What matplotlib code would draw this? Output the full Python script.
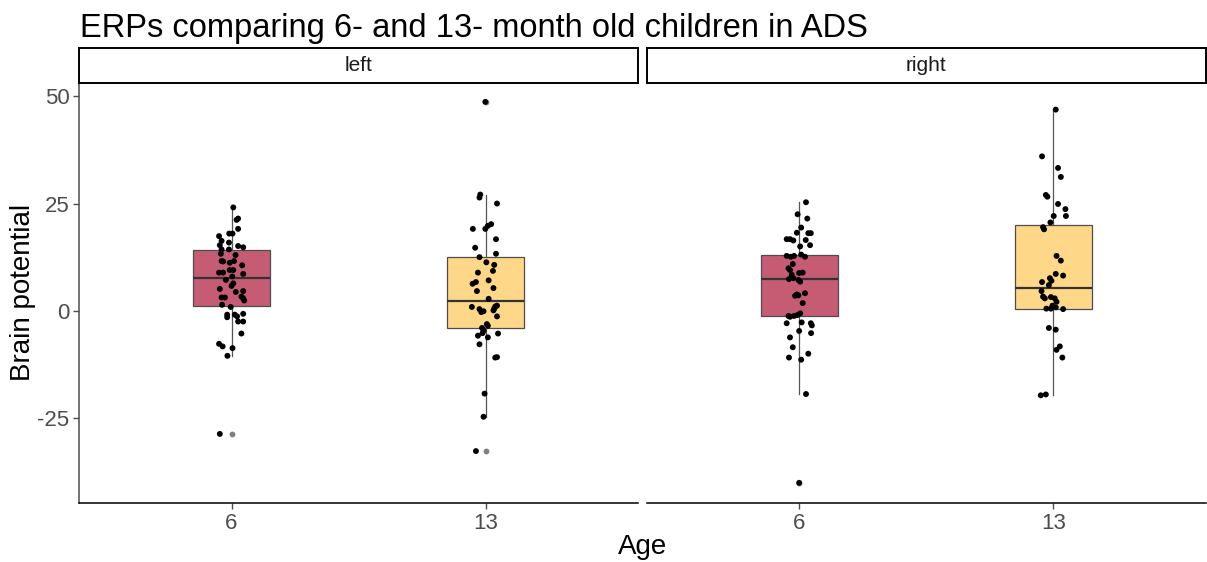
import numpy as np
import matplotlib.pyplot as plt

plt.rcParams['font.family'] = ['Liberation Sans', 'DejaVu Sans']

ages = ['6', '13']
sides = ['left', 'right']
box_colors = ['#C55C74', '#FFD788']

# brain potential per child, with the horizontal jitter of each dot
left_6 = [24.1, 21.5, 21.2, 19.1, 17.4, 18.0, 18.0, 16.3, 15.3, 15.9, 15.1, 14.8,
          14.3, 14.3, 13.3, 13.0, 11.6, 11.5, 11.2, 11.6, 10.6, 8.9, 8.9, 9.5, 9.5,
          8.6, 8.0, 7.2, 6.4, 5.8, 5.1, 4.4, 4.6, 3.1, 3.1, 3.3, 2.4, 2.9, 1.4, 0.9,
          -0.9, -1.5, -0.9, -1.3, -0.7, -2.5, -2.5, -5.3, -7.7, -8.3, -8.7, -10.5, -28.7]
left_6_jit = [0.007, 0.026, 0.020, 0.026, -0.049, -0.009, 0.004, -0.039, -0.046, -0.010,
              0.026, 0.046, -0.039, -0.010, -0.042, 0.016, -0.039, -0.033, -0.007, 0.010,
              0.042, -0.049, -0.033, -0.007, 0.007, 0.046, 0.003, -0.022, 0.007, 0.0,
              -0.046, 0.017, 0.046, -0.039, -0.026, 0.039, 0.050, 0.046, -0.037, -0.003,
              -0.017, -0.017, 0.013, 0.022, 0.046, 0.026, 0.046, 0.039, -0.049, -0.035,
              0.004, -0.016, -0.046]

left_13 = [48.7, 27.1, 26.4, 25.0, 20.2, 19.8, 19.1, 19.1, 16.7, 14.7, 13.3, 12.5,
           11.3, 10.7, 9.3, 8.9, 7.1, 6.3, 6.7, 5.3, 4.6, 2.8, 0.9, 0.4, -0.3, -0.1,
           0.5, 1.0, 1.2, 0.1, -1.3, -3.1, -3.5, -4.0, -4.6, -5.8, -5.2, -6.2, -5.3,
           -7.8, -10.9, -10.8, -19.3, -24.7, -32.7]
left_13_jit = [-0.001, -0.021, -0.024, 0.045, 0.022, 0.009, -0.001, -0.050, 0.041, -0.041,
               0.041, -0.024, 0.003, 0.034, 0.029, -0.030, 0.012, -0.051, -0.038, 0.031,
               -0.034, 0.012, -0.054, -0.024, -0.017, -0.008, 0.034, 0.038, 0.045, 0.031,
               0.045, 0.005, 0.009, -0.014, -0.008, -0.030, -0.012, 0.009, 0.049, -0.024,
               0.038, 0.045, -0.004, -0.008, -0.038]

right_6 = [25.3, 22.5, 21.5, 19.4, 18.2, 18.1, 18.1, 16.7, 16.7, 16.4, 16.5, 15.3,
           15.0, 12.8, 12.6, 12.8, 13.1, 12.6, 10.9, 9.9, 9.5, 8.8, 8.9, 8.4, 7.4, 7.6,
           7.2, 6.8, 3.8, 3.5, 3.6, 4.1, 1.8, -0.6, -1.0, -1.2, -1.4, -1.2, -2.9, -2.7,
           -2.9, -3.4, -4.7, -5.2, -6.2, -8.5, -10.9, -11.4, -10.0, -19.4, -40.1]
right_6_jit = [0.026, -0.007, 0.031, 0.007, -0.010, 0.035, 0.045, -0.050, -0.037, -0.024,
               0.025, 0.042, 0.003, -0.050, -0.034, -0.021, 0.007, 0.022, -0.026, -0.043,
               -0.037, -0.001, 0.013, -0.030, -0.041, -0.024, -0.004, 0.003, -0.010, -0.017,
               -0.004, 0.022, 0.013, 0.003, -0.008, -0.021, -0.037, -0.043, -0.050, 0.009,
               0.045, 0.049, -0.001, 0.046, -0.037, -0.026, -0.041, 0.007, 0.035, 0.026,
               -0.001]

right_13 = [46.9, 36.0, 33.3, 31.2, 27.0, 26.6, 24.9, 23.7, 22.1, 22.1, 20.6, 19.5,
            19.0, 12.8, 11.7, 8.2, 8.6, 7.6, 7.0, 6.7, 6.0, 4.6, 3.3, 2.9, 3.2, 2.9,
            2.1, 1.2, 0.8, 0.5, 0.5, 0.4, -4.0, -4.4, -8.3, -9.1, -10.9, -19.7, -19.5]
right_13_jit = [0.009, -0.045, 0.018, 0.029, -0.030, -0.024, 0.018, 0.047, 0.049, 0.001,
                -0.012, -0.041, -0.037, 0.012, 0.029, 0.038, 0.009, -0.014, -0.008, -0.045,
                -0.018, -0.047, -0.041, -0.034, -0.010, 0.005, 0.012, -0.004, 0.009, -0.010,
                -0.028, 0.038, -0.018, 0.009, 0.025, 0.012, 0.035, -0.050, -0.030]

# box summaries: q1, median, q3, lower whisker, upper whisker, outliers
box_q1 = {'left': [1.1, -4.0], 'right': [-1.3, 0.4]}
box_med = {'left': [7.7, 2.2], 'right': [7.4, 5.4]}
box_q3 = {'left': [14.2, 12.6], 'right': [13.0, 20.0]}
box_lo = {'left': [-10.5, -24.7], 'right': [-19.4, -19.7]}
box_hi = {'left': [24.1, 27.1], 'right': [25.3, 46.9]}
box_out = {'left': [[-28.7], [48.7, -32.7]], 'right': [[-40.1], []]}

points = {'left': [(left_6, left_6_jit), (left_13, left_13_jit)],
          'right': [(right_6, right_6_jit), (right_13, right_13_jit)]}

fig = plt.figure(figsize=(12.07, 5.62), dpi=100)
fig.text(0.066, 0.935, 'ERPs comparing 6- and 13- month old children in ADS',
         fontsize=23.5, va='baseline', ha='left')

panel_x = [0.0655, 0.536]
panel_w = 0.4631
panel_y = 0.105
panel_h = 0.7473
strip_h = 0.0623

for i, side in enumerate(sides):
    ax = fig.add_axes([panel_x[i], panel_y, panel_w, panel_h])
    stats = []
    for j in range(2):
        stats.append({'q1': box_q1[side][j], 'med': box_med[side][j],
                      'q3': box_q3[side][j], 'whislo': box_lo[side][j],
                      'whishi': box_hi[side][j], 'fliers': box_out[side][j]})
    bp = ax.bxp(stats, positions=[1, 2], widths=0.3, patch_artist=True,
                showcaps=False,
                boxprops=dict(edgecolor='#4d4d4d', linewidth=0.9),
                medianprops=dict(color='#333333', linewidth=1.6),
                whiskerprops=dict(color='#555555', linewidth=0.9),
                flierprops=dict(marker='o', markersize=4.2, markerfacecolor='#808080',
                                markeredgecolor='none'))
    for patch, c in zip(bp['boxes'], box_colors):
        patch.set_facecolor(c)

    for j, (vals, jit) in enumerate(points[side]):
        xs = np.array(jit) + (j + 1)
        ax.scatter(xs, vals, s=18, color='black', edgecolors='none', zorder=5)

    ax.set_xlim(0.4, 2.6)
    ax.set_ylim(-44.8, 53.1)
    ax.set_xticks([1, 2])
    ax.set_xticklabels(ages, fontsize=16, color='#4d4d4d')
    ax.set_yticks([-25, 0, 25, 50])
    ax.set_yticklabels(['-25', '0', '25', '50'], fontsize=16, color='#4d4d4d')
    ax.tick_params(length=4, width=1, color='#4d4d4d', pad=3)
    for s in ['top', 'right']:
        ax.spines[s].set_visible(False)
    ax.spines['bottom'].set_color('black')
    ax.spines['bottom'].set_linewidth(1.1)
    ax.spines['left'].set_color('#4d4d4d')
    ax.spines['left'].set_linewidth(1.1)
    if i == 1:
        ax.spines['left'].set_visible(False)
        ax.tick_params(axis='y', left=False, labelleft=False)

    # facet strip
    sx = fig.add_axes([panel_x[i], panel_y + panel_h, panel_w, strip_h])
    sx.set_xticks([])
    sx.set_yticks([])
    for s in sx.spines.values():
        s.set_color('black')
        s.set_linewidth(1.4)
    sx.text(0.5, 0.5, side, fontsize=15, color='#1a1a1a', ha='center', va='center',
            transform=sx.transAxes)

fig.text(0.019, 0.479, 'Brain potential', fontsize=20, rotation=90,
         ha='center', va='center')
fig.text(0.532, 0.027, 'Age', fontsize=20, ha='center', va='center')

fig.savefig('out.png', dpi=100)
